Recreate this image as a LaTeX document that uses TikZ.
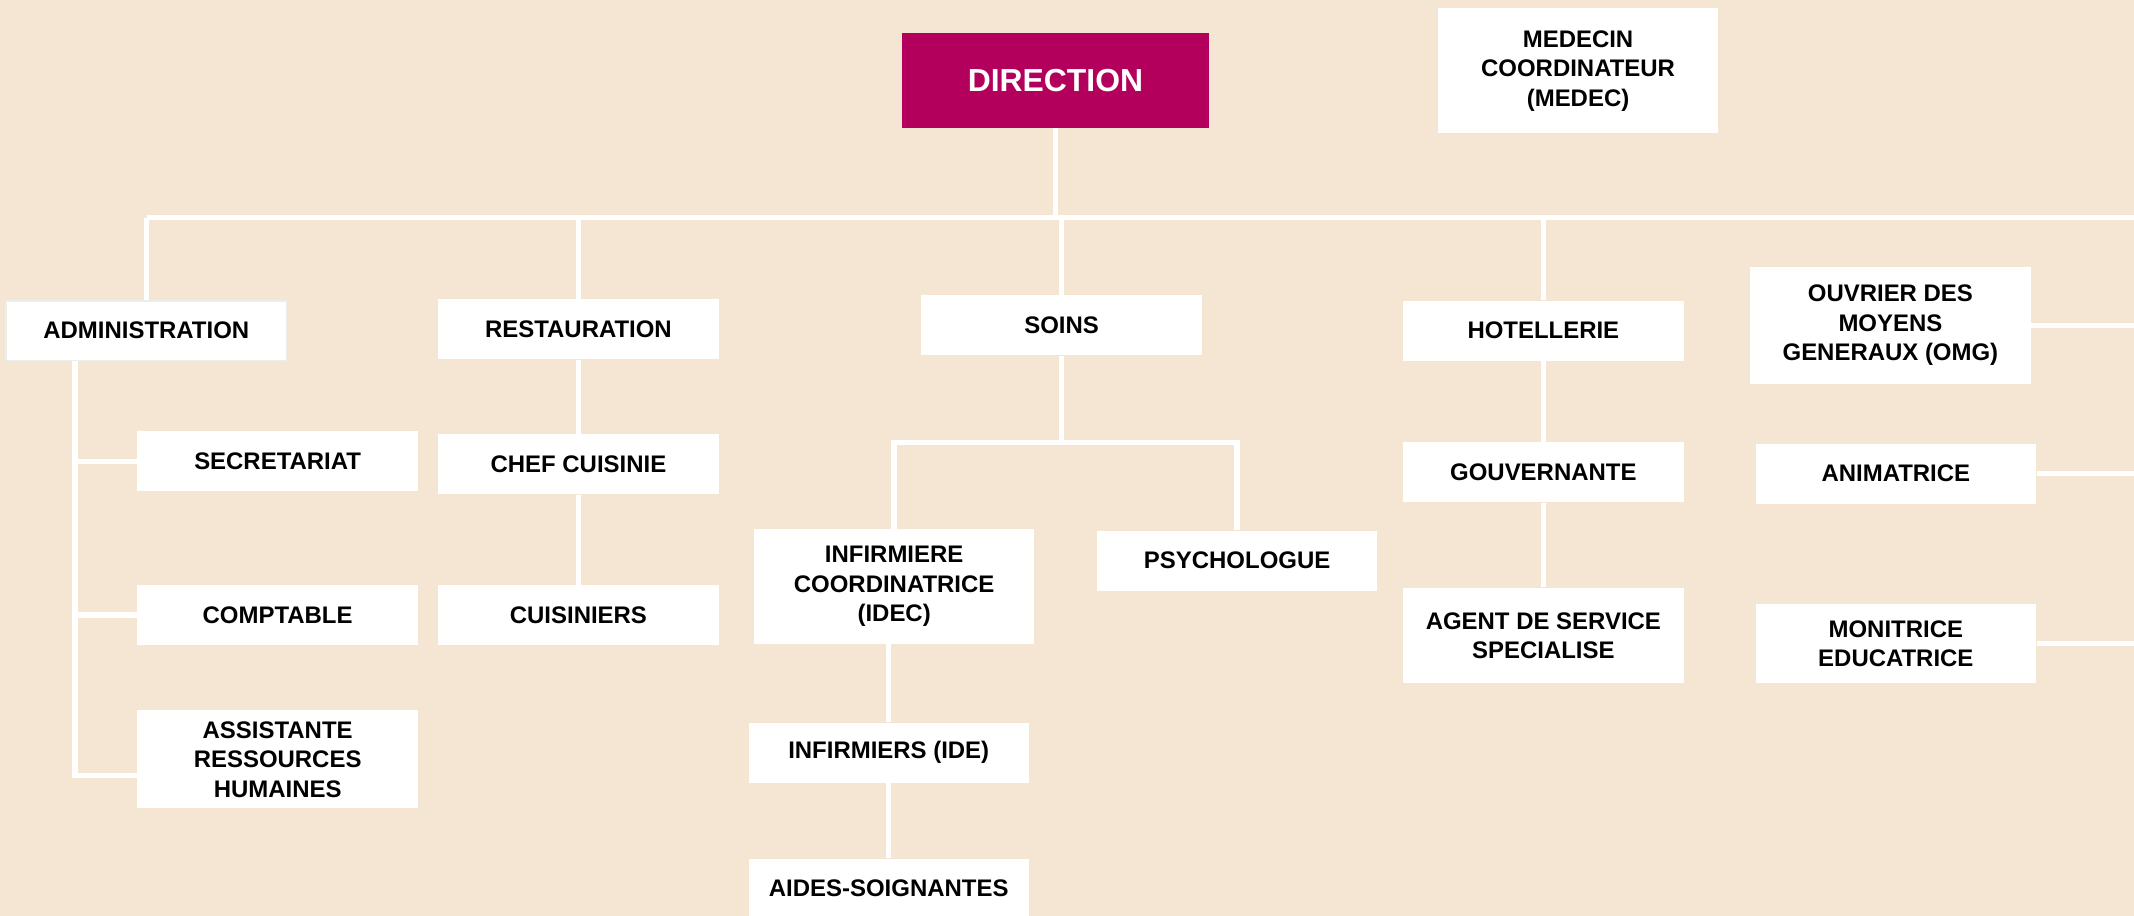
\documentclass[tikz,border=0pt]{standalone}
\usepackage{fontspec}
\setmainfont{Liberation Sans}
\definecolor{beige}{RGB}{245,230,212}
\definecolor{prune}{RGB}{178,0,92}

\begin{document}
\begin{tikzpicture}[x=0.5pt, y=-0.5pt,
  unit/.style={fill=white, minimum width=103pt, minimum height=22pt, inner sep=2pt,
    align=center, font=\bfseries\fontsize{8.8}{10.8}\selectfont},
  link/.style={white, line width=2pt, line cap=square}]
\useasboundingbox (0,0) rectangle (1568,673);
\fill[beige] (0,0) rectangle (1568,673);

  % Top
  \node[unit, fill=prune, text=white, minimum width=112.5pt, minimum height=35pt,
    font=\bfseries\fontsize{11.7}{14}\selectfont] (dir) at (775.5,59) {DIRECTION};
  \node[unit, minimum height=46pt] (medec) at (1159.5,52) {MEDECIN\\COORDINATEUR\\(MEDEC)};

  % Services
  \node[unit, draw=black!7, line width=0.6pt] (adm) at (107.5,243) {ADMINISTRATION};
  \node[unit] (rest) at (425,242) {RESTAURATION};
  \node[unit] (soins) at (780,239) {SOINS};
  \node[unit] (hot) at (1134,243) {HOTELLERIE};
  \node[unit, minimum height=43pt] (omg) at (1389,239) {OUVRIER DES\\MOYENS\\GENERAUX (OMG)};

  % Administration
  \node[unit] (sec) at (204,339) {SECRETARIAT};
  \node[unit] (compt) at (204,452) {COMPTABLE};
  \node[unit, minimum height=36pt] (arh) at (204,558) {ASSISTANTE\\RESSOURCES\\HUMAINES};

  % Restauration
  \node[unit] (chef) at (425,341) {CHEF CUISINIE};
  \node[unit] (cuis) at (425,452) {CUISINIERS};

  % Soins
  \node[unit, minimum height=42pt] (idec) at (657,431) {INFIRMIERE\\COORDINATRICE\\(IDEC)};
  \node[unit] (psy) at (909,412) {PSYCHOLOGUE};
  \node[unit] (ide) at (653,553) {INFIRMIERS (IDE)};
  \node[unit] (aides) at (653,653) {AIDES-SOIGNANTES};

  % Hotellerie
  \node[unit] (gouv) at (1134,347) {GOUVERNANTE};
  \node[unit, minimum height=35pt] (agent) at (1134,467) {AGENT DE SERVICE\\SPECIALISE};

  % Right
  \node[unit] (anim) at (1393,348) {ANIMATRICE};
  \node[unit, minimum height=29pt] (moni) at (1393,473) {MONITRICE\\EDUCATRICE};

  \coordinate (barL) at (108,160);
  \coordinate (barR) at (1568,160);
  \coordinate (trunk) at (55,570);
  \coordinate (sbar) at (780,325);
  \coordinate (edge) at (1568,0);

  \draw[link] (barL) -- (barR);
  \draw[link, line cap=butt] (dir.south) -- (dir.south |- barL);
  \foreach \n in {adm, rest, soins, hot} {%
    \draw[link] (\n.north) -- (\n.north |- barL);
  }

  \draw[link] (adm.south -| trunk) -- (trunk) -- (arh.west |- trunk);
  \foreach \n in {sec, compt} {%
    % Left
    \draw[link] (\n.west -| trunk) -- (\n.west);
  }

  \draw[link] (rest) -- (chef);
  \draw[link] (chef) -- (cuis);

  \draw[link] (soins.south) -- (sbar);
  \draw[link] (idec.north) |- (sbar);
  \draw[link] (psy.north) |- (sbar);
  \draw[link] (ide.north |- idec.south) -- (ide.north);
  \draw[link] (ide) -- (aides);

  \draw[link] (hot) -- (gouv);
  \draw[link] (gouv) -- (agent);

  \foreach \n in {omg, anim, moni} {%
    % Right
    \draw[link] (\n.east) -- (\n.east -| edge);
  }
\end{tikzpicture}
\end{document}
